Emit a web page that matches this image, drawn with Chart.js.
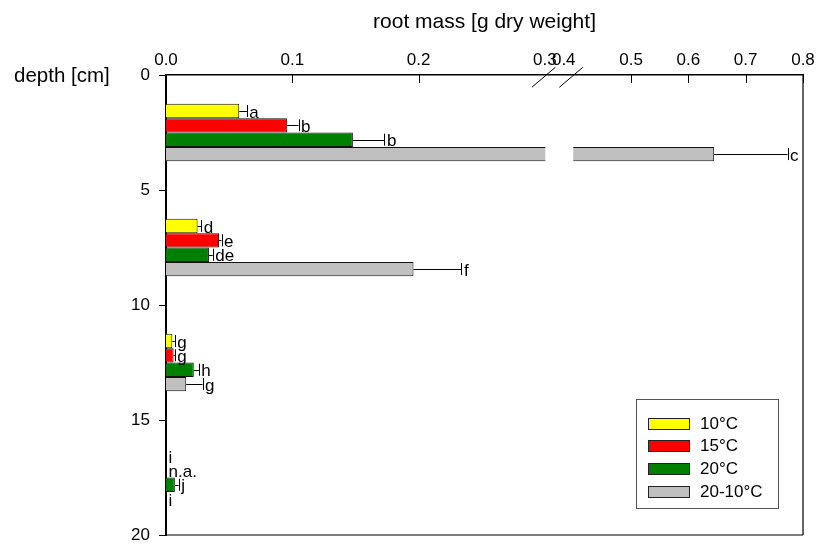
<!DOCTYPE html>
<html>
<head>
<meta charset="utf-8">
<script src="https://cdn.jsdelivr.net/npm/chart.js@4/dist/chart.umd.min.js"></script>
<style>
  html, body { margin: 0; padding: 0; background: #fff; }
  canvas { display: block; }
</style>
</head>
<body>
<canvas id="chart" width="816" height="545"></canvas>
<script>
// Depth layers (cm): mid-points of 0-5, 5-10, 10-15 and 15-20 cm
const depthLayers = [2.5, 7.5, 12.5, 17.5];
const depthTicks = [0, 5, 10, 15, 20];
const massTicks = [0, 0.1, 0.2, 0.3, 0.4, 0.5, 0.6, 0.7, 0.8];

const seriesNames = ['10°C', '15°C', '20°C', '20-10°C'];

// Root mass [g dry weight] per depth layer, with standard errors
const mass10   = [0.058, 0.025, 0.005, 0];
const mass15   = [0.096, 0.042, 0.006, null];
const mass20   = [0.148, 0.034, 0.022, 0.007];
const mass2010 = [0.645, 0.196, 0.016, 0];

const se10   = [0.006, 0.003, 0.002, 0];
const se15   = [0.009, 0.002, 0.001, null];
const se20   = [0.025, 0.003, 0.004, 0.003];
const se2010 = [0.128, 0.038, 0.013, 0];

// Significance letters
const letters10   = ['a', 'd', 'g', 'i'];
const letters15   = ['b', 'e', 'g', 'n.a.'];
const letters20   = ['b', 'de', 'h', 'j'];
const letters2010 = ['c', 'f', 'g', 'i'];

// Axis break on the mass axis
const BREAK_FROM = 0.3;
const BREAK_TO = 0.4;

const FONT = 'Liberation Sans, Arial, Helvetica, sans-serif';
Chart.defaults.font.family = FONT;
Chart.defaults.color = '#000';

// Share of the axis length taken by the lower part and by the gap
const LOWER_SHARE = 0.5947;
const GAP_SHARE = 0.0454;

class BrokenLinearScale extends Chart.LinearScale {
  buildTicks() {
    return massTicks.map(v => ({ value: v }));
  }
  _toDecimal(value) {
    const lo = this.min, hi = this.max;
    if (value <= BREAK_FROM) return (value - lo) / (BREAK_FROM - lo) * LOWER_SHARE;
    if (value >= BREAK_TO) {
      return LOWER_SHARE + GAP_SHARE +
        (value - BREAK_TO) / (hi - BREAK_TO) * (1 - LOWER_SHARE - GAP_SHARE);
    }
    return LOWER_SHARE + (value - BREAK_FROM) / (BREAK_TO - BREAK_FROM) * GAP_SHARE;
  }
  getPixelForValue(value) {
    if (value === null || value === undefined || isNaN(value)) return NaN;
    return this.getPixelForDecimal(this._toDecimal(value));
  }
  getValueForPixel(pixel) {
    const d = this.getDecimalForPixel(pixel);
    const lo = this.min, hi = this.max;
    if (d <= LOWER_SHARE) return lo + d / LOWER_SHARE * (BREAK_FROM - lo);
    if (d >= LOWER_SHARE + GAP_SHARE) {
      return BREAK_TO + (d - LOWER_SHARE - GAP_SHARE) / (1 - LOWER_SHARE - GAP_SHARE) * (hi - BREAK_TO);
    }
    return BREAK_FROM + (d - LOWER_SHARE) / GAP_SHARE * (BREAK_TO - BREAK_FROM);
  }
  getPixelForTick(index) {
    const t = this.ticks[index];
    if (!t) return null;
    let px = this.getPixelForValue(t.value);
    // keep the first label after the break tucked against the break
    if (t.value === BREAK_TO) px -= 10;
    return px;
  }
}
BrokenLinearScale.id = 'brokenLinear';
BrokenLinearScale.defaults = Chart.LinearScale.defaults;
Chart.register(BrokenLinearScale);

const colors = ['#FFFF00', '#FF0000', '#008000', '#C0C0C0'];
const masses = [mass10, mass15, mass20, mass2010];
const errors = [se10, se15, se20, se2010];
const letters = [letters10, letters15, letters20, letters2010];

const datasets = seriesNames.map((name, s) => ({
  label: name,
  data: depthLayers.map((d, i) => ({ y: d, x: masses[s][i] })),
  backgroundColor: colors[s],
  borderColor: '#111',
  borderWidth: 1,
  borderSkipped: 'start',
  categoryPercentage: 0.5,
  barPercentage: 1.0,
  errors: errors[s],
  letters: letters[s]
}));

// White strip through the bars at the axis break
const breakGap = {
  id: 'breakGap',
  afterDatasetsDraw(chart) {
    const { ctx, chartArea, scales } = chart;
    const x0 = scales.x.getPixelForValue(BREAK_FROM);
    const x1 = scales.x.getPixelForValue(BREAK_TO);
    ctx.save();
    ctx.fillStyle = '#fff';
    ctx.fillRect(x0 + 0.5, chartArea.top + 2, x1 - x0 - 1, chartArea.bottom - chartArea.top - 4);
    ctx.restore();
  }
};

// Error bars and significance letters
const errorBars = {
  id: 'errorBars',
  afterDatasetsDraw(chart) {
    const { ctx, scales } = chart;
    const xs = scales.x;
    ctx.save();
    ctx.strokeStyle = '#000';
    ctx.lineWidth = 1;
    ctx.fillStyle = '#000';
    ctx.font = '17px ' + FONT;
    ctx.textAlign = 'left';
    ctx.textBaseline = 'middle';
    chart.data.datasets.forEach((ds, s) => {
      const meta = chart.getDatasetMeta(s);
      meta.data.forEach((bar, i) => {
        const v = ds.data[i].x;
        const e = ds.errors[i];
        const y = bar.y;
        let end;
        if (v === null || v === undefined) {
          end = xs.getPixelForValue(0);
        } else {
          const x0 = xs.getPixelForValue(v);
          end = x0;
          if (e) {
            const x1 = xs.getPixelForValue(v + e);
            ctx.beginPath();
            ctx.moveTo(x0, Math.round(y) + 0.5);
            ctx.lineTo(x1, Math.round(y) + 0.5);
            ctx.moveTo(Math.round(x1) + 0.5, y - 6);
            ctx.lineTo(Math.round(x1) + 0.5, y + 6);
            ctx.stroke();
            end = x1;
          }
        }
        ctx.fillText(ds.letters[i], end + 2.5, y + 2);
      });
    });
    ctx.restore();
  }
};

// Frame, inner ticks, break marks, depth label and legend
const decorations = {
  id: 'decorations',
  afterDraw(chart) {
    const { ctx, chartArea, scales } = chart;
    const xs = scales.x;
    const { left, right, top, bottom } = chartArea;
    ctx.save();
    ctx.strokeStyle = '#000';
    ctx.lineWidth = 1.2;
    ctx.beginPath();
    ctx.moveTo(right, top);
    ctx.lineTo(right, bottom);
    ctx.moveTo(left, bottom);
    ctx.lineTo(right, bottom);
    ctx.stroke();

    // tick marks pointing into the plot from the top axis
    ctx.lineWidth = 1;
    ctx.beginPath();
    massTicks.forEach(v => {
      if (v === BREAK_FROM || v === BREAK_TO) return;
      const x = Math.round(xs.getPixelForValue(v)) + 0.5;
      ctx.moveTo(x, top);
      ctx.lineTo(x, top + 8);
    });
    ctx.stroke();

    // break marks
    [BREAK_FROM, BREAK_TO].forEach((v, k) => {
      const x = xs.getPixelForValue(v);
      const dx = k === 0 ? -13 : -14.4;
      ctx.beginPath();
      ctx.moveTo(x + dx, top + 12.3);
      ctx.lineTo(x + dx + 23.5, top - 7.7);
      ctx.stroke();
    });

    // y axis caption
    ctx.fillStyle = '#000';
    ctx.font = '20.5px ' + FONT;
    ctx.textAlign = 'left';
    ctx.textBaseline = 'middle';
    ctx.fillText('depth [cm]', 14, 76);

    // legend
    const lx = 636, ly = 399, lw = 142, lh = 109;
    ctx.fillStyle = '#fff';
    ctx.fillRect(lx, ly, lw, lh);
    ctx.strokeStyle = '#555';
    ctx.lineWidth = 1;
    ctx.strokeRect(lx + 0.5, ly + 0.5, lw, lh);
    ctx.font = '17px ' + FONT;
    chart.data.datasets.forEach((ds, s) => {
      const cy = 423 + s * 22.8;
      ctx.fillStyle = ds.backgroundColor;
      ctx.fillRect(648.5, Math.round(cy - 5.5) + 0.5, 41, 11);
      ctx.strokeStyle = '#222';
      ctx.strokeRect(648.5, Math.round(cy - 5.5) + 0.5, 41, 11);
      ctx.fillStyle = '#000';
      ctx.fillText(ds.label, 700, cy + 1);
    });
    ctx.restore();
  }
};

new Chart(document.getElementById('chart'), {
  type: 'bar',
  data: { datasets },
  options: {
    indexAxis: 'y',
    responsive: false,
    devicePixelRatio: 1,
    animation: false,
    layout: { padding: { left: 0, right: 13, top: 0, bottom: 10 } },
    plugins: {
      legend: { display: false },
      tooltip: { enabled: false }
    },
    scales: {
      x: {
        type: 'brokenLinear',
        position: 'top',
        min: 0,
        max: 0.8,
        offset: false,
        grid: { display: false, drawTicks: false, offset: false },
        border: { display: true, color: '#000', width: 1.4 },
        ticks: {
          autoSkip: false,
          maxRotation: 0,
          padding: 4,
          font: { size: 17 },
          callback: v => Number(v).toFixed(1)
        },
        title: {
          display: true,
          text: 'root mass [g dry weight]',
          font: { size: 21 },
          padding: { top: 10, bottom: 0 }
        },
        afterFit: s => { s.height = 75; s.paddingLeft = 0; s.paddingRight = 0; }
      },
      y: {
        type: 'linear',
        position: 'left',
        reverse: true,
        min: 0,
        max: 20,
        offset: false,
        afterBuildTicks: s => { s.ticks = depthTicks.map(v => ({ value: v })); },
        grid: { display: true, drawOnChartArea: false, drawTicks: true, tickLength: 7, color: '#000', offset: false },
        border: { display: true, color: '#000', width: 2 },
        ticks: { padding: 9, font: { size: 17 } },
        afterFit: s => { s.width = 166; s.paddingTop = 0; s.paddingBottom = 0; }
      }
    }
  },
  plugins: [breakGap, errorBars, decorations]
});
</script>
</body>
</html>
